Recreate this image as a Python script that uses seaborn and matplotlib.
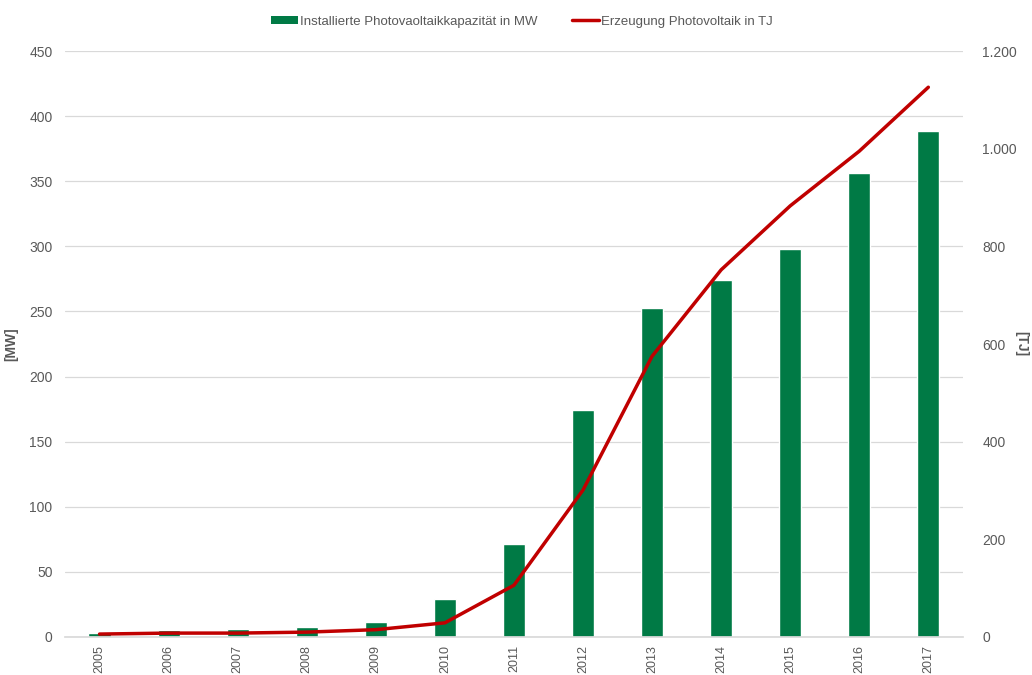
import numpy as np
import pandas as pd
import matplotlib
matplotlib.use("Agg")
import matplotlib.pyplot as plt
from matplotlib.ticker import FuncFormatter, MultipleLocator
from matplotlib.patches import Patch
from matplotlib.lines import Line2D
import seaborn as sns

years = ["2005", "2006", "2007", "2008", "2009", "2010", "2011",
         "2012", "2013", "2014", "2015", "2016", "2017"]
capacity_mw = [3, 5.5, 6, 8, 11.5, 29, 71.5, 174, 252.5, 274, 298, 356, 388.5]
generation_tj = [6, 8, 8, 10, 15, 29, 106, 301, 575, 752, 883, 995, 1126]

label_bar = "Installierte Photovaoltaikkapazität in MW"
label_line = "Erzeugung Photovoltaik in TJ"

green = "#007A45"
red = "#C00000"
gray_text = "#595959"

sns.set_theme(style="white")
plt.rcParams["font.family"] = ["Liberation Sans", "DejaVu Sans"]

fig = plt.figure(figsize=(10.32, 6.75), dpi=100)
ax = fig.add_axes([0.063, 0.0563, 0.870, 0.868])

df = pd.DataFrame({"year": years, "mw": capacity_mw, "tj": generation_tj})
sns.barplot(data=df, x="year", y="mw", color=green, width=0.32,
            saturation=1, ax=ax, zorder=2)
ax.set_ylim(0, 450)
ax.yaxis.set_major_locator(MultipleLocator(50))
ax.grid(axis="y", color="#D9D9D9", linewidth=0.9, zorder=0)
ax.set_axisbelow(True)
for s in ["top", "right", "left"]:
    ax.spines[s].set_visible(False)
ax.spines["bottom"].set_color("#D9D9D9")
ax.set_xlabel("")
ax.set_ylabel("[MW]", fontsize=10, color=gray_text, fontweight="bold")
ax.yaxis.set_label_coords(-0.052, 0.5)
ax.tick_params(axis="x", labelrotation=90, labelsize=9, colors=gray_text, length=0, pad=6)
ax.tick_params(axis="y", labelsize=10, colors=gray_text, length=0, pad=9)

ax2 = ax.twinx()
xpos = np.arange(len(years))
sns.lineplot(x=xpos, y=generation_tj, color=red, linewidth=2.5, ax=ax2,
             estimator=None, sort=False)
ax2.set_ylim(0, 1200)
ax2.yaxis.set_major_locator(MultipleLocator(200))
ax2.yaxis.set_major_formatter(FuncFormatter(lambda v, p: f"{int(v):,}".replace(",", ".")))
for s in ["top", "right", "left", "bottom"]:
    ax2.spines[s].set_visible(False)
ax2.set_ylabel("[TJ]", fontsize=10, color=gray_text, fontweight="bold", rotation=270)
ax2.yaxis.set_label_coords(1.073, 0.5)
ax2.tick_params(axis="y", labelsize=10, colors=gray_text, length=0, pad=14)
ax2.grid(False)
ax.set_xlim(-0.5, len(years) - 0.5)

handles = [Patch(facecolor=green, edgecolor="none"),
           Line2D([0], [0], color=red, linewidth=2.5)]
fig.legend(handles, [label_bar, label_line], loc="center",
           bbox_to_anchor=(0.506, 0.968), ncol=2, frameon=False,
           fontsize=9.5, labelcolor=gray_text, handlelength=2.05,
           handleheight=0.6, handletextpad=0.15, columnspacing=2.6)

fig.savefig("out.png", dpi=100)
